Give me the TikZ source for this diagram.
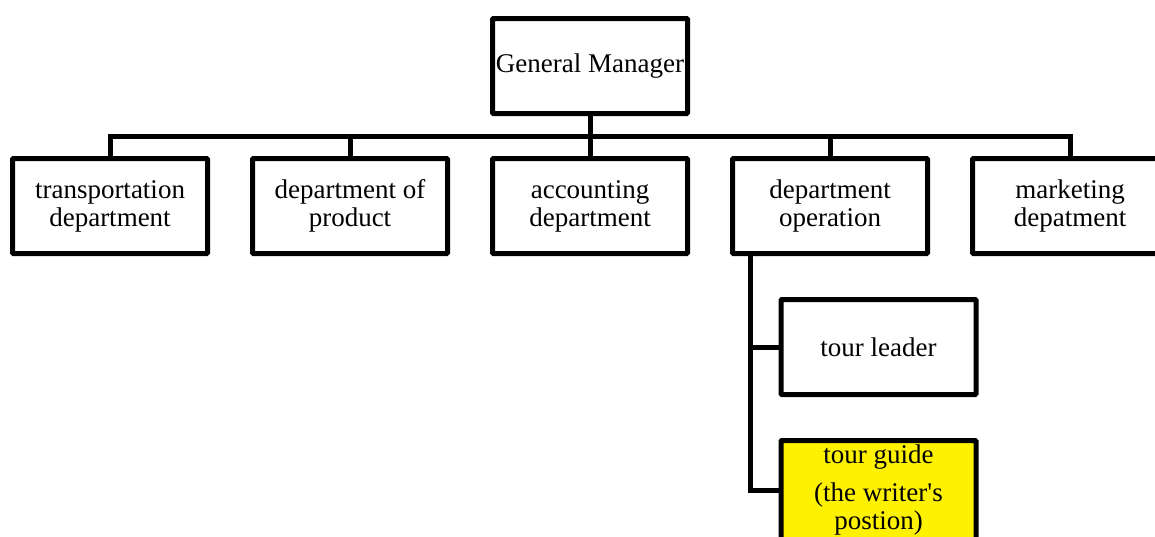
\documentclass[tikz,border=0pt]{standalone}
\usepackage{fontspec}
\setmainfont{Liberation Serif}
\usetikzlibrary{positioning}

\begin{document}
\begin{tikzpicture}[x=1pt,y=-1pt,node distance=240pt,on grid,
  unit/.style={draw,line width=5pt,rounded corners=1pt,minimum width=195pt,minimum height=95pt,
    align=center,font=\fontsize{27}{28}\selectfont},
  link/.style={line width=5pt}]
 \useasboundingbox (0,0) rectangle (1155,536);
 \clip (0,0) rectangle (1155,536);
 \node[unit] (gm) at (590,66) {General Manager};
 \node[unit] (acct) [below=140pt of gm] {accounting\\department};
 \node[unit] (prod) [left=of acct] {department of\\product};
 \node[unit] (trans) [left=of prod] {transportation\\department};
 \node[unit] (oper) [right=of acct] {department\\operation};
 \node[unit] (mkt) [right=of oper] {marketing\\depatment};
 \node[unit] (leader) [below right=141pt and 48.5pt of oper] {tour leader};
 \node[unit,fill=yellow,minimum height=99pt] (guide) [below=143pt of leader]
   {tour guide\\[10pt](the writer\textquotesingle s\\postion)};
 \coordinate (bus) at (590,136);
 \coordinate (trunk) at ([xshift=20pt]oper.south west);
 \draw[link] (gm.south) -- (acct.north);
 \draw[link] (trans.north) |- (bus) -| (mkt.north);
 \draw[link] (prod.north) |- (bus);
 \draw[link] (oper.north) |- (bus);
 \draw[link] (trunk) |- (leader.west);
 \draw[link] (trunk) |- (guide.west);
\end{tikzpicture}
\end{document}
